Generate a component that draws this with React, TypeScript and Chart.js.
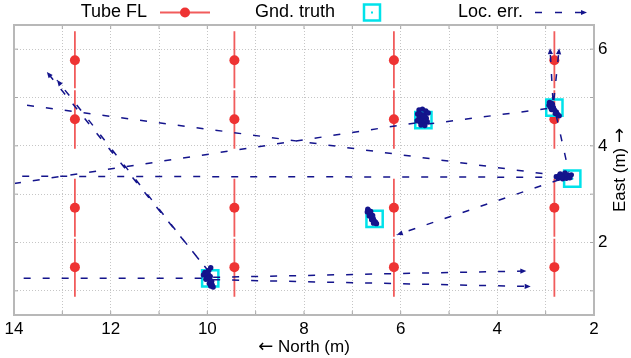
import React, { useEffect, useRef } from 'react';
import { Chart, registerables } from 'chart.js';

Chart.register(...registerables);

const W = 631;
const H = 358;
const FONT = '"Liberation Sans", Arial, Helvetica, sans-serif';
const ARROW_FONT = '"DejaVu Sans", sans-serif';
const RED = '#ee3333';
const RED_LINE = 'rgba(238,64,64,0.85)';
const CYAN = '#00e2ea';
const NAVY = '#14148c';
const FRAME = '#b8b8b8';

const seriesNames = ['Tube FL', 'Gnd. truth', 'Loc. err.'];
const xTitleParts = ['←', ' North (m)'];
const yTitleParts = ['East (m) ', '→'];

const xTickValues = [2, 3, 4, 5, 6, 7, 8, 9, 10, 11, 12, 13, 14];
const yTickValues = [1, 2, 3, 4, 5, 6];

// Tubes: x position of each tube, vertical segments with a marker at their centre
const tubeX = [12.74, 9.44, 6.14, 2.82];
const tubeSegTop = [6.37, 5.15, 3.32, 2.08];
const tubeSegBottom = [5.19, 3.94, 2.12, 0.88];
const tubeMarkY = [5.77, 4.55, 2.72, 1.49];

// Ground truth positions
const truthX = [9.94, 6.54, 5.53, 2.82, 2.45];
const truthY = [1.26, 2.49, 4.53, 4.79, 3.32];

// Large localization errors (dashed arrows)
const errFromX = [9.97, 9.93, 9.88, 9.88, 2.72, 2.85, 2.83, 13.73, 13.83, 14.0, 5.45, 2.78, 13.8];
const errFromY = [1.40, 1.34, 1.28, 1.23, 3.30, 4.95, 4.95, 4.84, 3.37, 3.22, 4.45, 4.62, 1.26];
const errToX = [13.32, 13.11, 3.40, 3.31, 6.08, 2.91, 2.72, 2.72, 2.75, 5.65, 2.90, 2.52, 10.0];
const errToY = [5.53, 5.36, 1.41, 1.09, 2.16, 6.02, 6.02, 3.38, 3.35, 4.48, 4.78, 3.45, 1.26];
const errHead = [1, 1, 1, 1, 1, 1, 1, 0, 0, 0, 0, 0, 0];

// Small localization errors clustered around each ground truth
const clusterX = [
  9.93, 9.97, 10.05, 10.08, 10.02, 9.97, 10.03, 9.95, 9.92, 9.96, 9.90, 9.88, 9.93, 10.0, 9.94, 9.99, 9.91,
  6.68, 6.66, 6.69, 6.64, 6.62, 6.65, 6.60, 6.57, 6.60, 6.55, 6.52, 6.50, 6.56, 6.62, 6.58,
  5.62, 5.55, 5.48, 5.65, 5.58, 5.50, 5.43, 5.62, 5.55, 5.47, 5.60, 5.52, 5.45, 5.58, 5.50, 5.66, 5.53,
  2.92, 2.88, 2.93, 2.86, 2.90, 2.84, 2.88, 2.82, 2.78, 2.80, 2.75, 2.72, 2.86, 2.84,
  2.78, 2.74, 2.72, 2.68, 2.65, 2.64, 2.60, 2.57, 2.55, 2.52, 2.50, 2.47, 2.70, 2.60, 2.66,
];
const clusterY = [
  1.48, 1.42, 1.38, 1.33, 1.30, 1.27, 1.24, 1.22, 1.18, 1.15, 1.12, 1.08, 1.10, 1.35, 1.30, 1.26, 1.20,
  2.69, 2.66, 2.63, 2.62, 2.58, 2.55, 2.53, 2.50, 2.47, 2.45, 2.42, 2.39, 2.40, 2.64, 2.56,
  4.74, 4.76, 4.72, 4.66, 4.65, 4.64, 4.68, 4.58, 4.56, 4.57, 4.50, 4.48, 4.50, 4.43, 4.42, 4.52, 4.61,
  4.90, 4.88, 4.84, 4.83, 4.80, 4.79, 4.75, 4.74, 4.70, 4.67, 4.65, 4.62, 4.86, 4.77,
  3.36, 3.33, 3.38, 3.35, 3.32, 3.39, 3.36, 3.33, 3.40, 3.37, 3.34, 3.40, 3.42, 3.44, 3.36,
];

function px(chart: any, vx: number, vy: number) {
  return [chart.scales.x.getPixelForValue(vx), chart.scales.y.getPixelForValue(vy)];
}

function arrowHead(ctx: CanvasRenderingContext2D, x1: number, y1: number, x2: number, y2: number) {
  const a = Math.atan2(y2 - y1, x2 - x1);
  const L = 6;
  const w = 2.6;
  const c = Math.cos(a);
  const s = Math.sin(a);
  ctx.beginPath();
  ctx.moveTo(x2, y2);
  ctx.lineTo(x2 - L * c + w * s, y2 - L * s - w * c);
  ctx.lineTo(x2 - L * c - w * s, y2 - L * s + w * c);
  ctx.closePath();
  ctx.fill();
}

// draws text parts (arrow glyph in a font with a long arrow) centred at 0,0
function drawTitle(ctx: CanvasRenderingContext2D, parts: string[]) {
  const fonts = parts.map((p) => (p === '←' || p === '→' ? `18px ${ARROW_FONT}` : `17px ${FONT}`));
  const widths = parts.map((p, i) => {
    ctx.font = fonts[i];
    return ctx.measureText(p).width;
  });
  const total = widths.reduce((s, w) => s + w, 0);
  let x = -total / 2;
  ctx.textAlign = 'left';
  ctx.textBaseline = 'middle';
  parts.forEach((p, i) => {
    ctx.font = fonts[i];
    ctx.fillText(p, x, 0);
    x += widths[i];
  });
}

const arrowPlugin = {
  id: 'arrowHeads',
  afterDatasetsDraw(chart: any) {
    const ctx = chart.ctx;
    ctx.save();
    ctx.fillStyle = NAVY;
    errToX.forEach((tx, i) => {
      if (!errHead[i]) return;
      const [x1, y1] = px(chart, errFromX[i], errFromY[i]);
      const [x2, y2] = px(chart, tx, errToY[i]);
      arrowHead(ctx, x1, y1, x2, y2);
    });
    ctx.restore();
  },
};

const framePlugin = {
  id: 'frame',
  afterDatasetsDraw(chart: any) {
    const { ctx, chartArea: a } = chart;
    ctx.save();
    ctx.strokeStyle = '#a8a8a8';
    ctx.lineWidth = 1;
    ctx.beginPath();
    xTickValues.forEach((v) => {
      const p = chart.scales.x.getPixelForValue(v);
      ctx.moveTo(p, a.top);
      ctx.lineTo(p, a.top + 4);
      ctx.moveTo(p, a.bottom);
      ctx.lineTo(p, a.bottom - 4);
    });
    yTickValues.forEach((v) => {
      const p = chart.scales.y.getPixelForValue(v);
      ctx.moveTo(a.left, p);
      ctx.lineTo(a.left + 4, p);
      ctx.moveTo(a.right, p);
      ctx.lineTo(a.right - 4, p);
    });
    ctx.stroke();
    ctx.strokeStyle = FRAME;
    ctx.lineWidth = 2;
    ctx.strokeRect(a.left, a.top, a.right - a.left, a.bottom - a.top);
    ctx.restore();
  },
};

const legendPlugin = {
  id: 'gpLegend',
  afterDraw(chart: any) {
    const ctx = chart.ctx;
    const a = chart.chartArea;
    // axis titles
    ctx.save();
    ctx.fillStyle = '#000';
    ctx.translate((a.left + a.right) / 2, 347);
    drawTitle(ctx, xTitleParts);
    ctx.restore();

    ctx.save();
    ctx.fillStyle = '#000';
    ctx.translate(620, (a.top + a.bottom) / 2);
    ctx.rotate(-Math.PI / 2);
    drawTitle(ctx, yTitleParts);
    ctx.restore();

    ctx.save();
    const y = 12.5;
    ctx.font = `18px ${FONT}`;
    ctx.fillStyle = '#000';
    ctx.textAlign = 'right';
    ctx.textBaseline = 'middle';
    const textRight = [147, 335, 523];
    const sampleC = [185, 372, 560];
    seriesNames.forEach((n, i) => ctx.fillText(n, textRight[i], y));
    // Tube FL sample
    ctx.strokeStyle = RED_LINE;
    ctx.lineWidth = 2;
    ctx.beginPath();
    ctx.moveTo(sampleC[0] - 25, y);
    ctx.lineTo(sampleC[0] + 25, y);
    ctx.stroke();
    ctx.fillStyle = RED;
    ctx.beginPath();
    ctx.arc(sampleC[0], y, 5, 0, Math.PI * 2);
    ctx.fill();
    // Gnd truth sample
    ctx.strokeStyle = CYAN;
    ctx.lineWidth = 2.5;
    ctx.strokeRect(sampleC[1] - 8, y - 8, 16, 16);
    ctx.fillStyle = CYAN;
    ctx.fillRect(sampleC[1] - 1, y - 1, 2, 2);
    // Loc err sample
    ctx.strokeStyle = NAVY;
    ctx.lineWidth = 1.5;
    ctx.setLineDash([7, 13]);
    ctx.beginPath();
    ctx.moveTo(sampleC[2] - 25, y);
    ctx.lineTo(sampleC[2] + 26, y);
    ctx.stroke();
    ctx.setLineDash([]);
    ctx.fillStyle = NAVY;
    arrowHead(ctx, sampleC[2] - 25, y, sampleC[2] + 27, y);
    ctx.restore();
  },
};

export default function App() {
  const ref = useRef<HTMLCanvasElement>(null);
  useEffect(() => {
    document.body.style.margin = '0';
    const canvas = ref.current;
    if (!canvas) return;

    const tubePts: any[] = [];
    tubeX.forEach((tx) => {
      tubeMarkY.forEach((my, j) => {
        tubePts.push({ x: tx, y: tubeSegTop[j] });
        tubePts.push({ x: tx, y: my, m: true });
        tubePts.push({ x: tx, y: tubeSegBottom[j] });
        tubePts.push({ x: tx, y: null });
      });
    });

    const errPts: any[] = [];
    errFromX.forEach((fx, i) => {
      errPts.push({ x: fx, y: errFromY[i] });
      errPts.push({ x: errToX[i], y: errToY[i] });
      errPts.push({ x: errToX[i], y: null });
    });

    const truthPts = truthX.map((x, i) => ({ x, y: truthY[i] }));
    const clusterPts = clusterX.map((x, i) => ({ x, y: clusterY[i] }));

    const chart = new Chart(canvas, {
      type: 'scatter',
      data: {
        datasets: [
          {
            label: seriesNames[0],
            data: tubePts,
            showLine: true,
            spanGaps: false,
            borderColor: RED_LINE,
            borderWidth: 1.8,
            backgroundColor: RED,
            pointBackgroundColor: RED,
            pointBorderWidth: 0,
            pointRadius: (c: any) => (c.raw && c.raw.m ? 5 : 0),
            order: 5,
          },
          {
            label: seriesNames[1],
            data: truthPts,
            pointStyle: 'rect',
            pointRadius: 11.5,
            pointBorderWidth: 2.5,
            pointBorderColor: CYAN,
            pointBackgroundColor: 'rgba(0,0,0,0)',
            order: 4,
          },
          {
            label: 'truth-dot',
            data: truthPts,
            pointRadius: 1.2,
            pointBorderWidth: 0,
            pointBackgroundColor: CYAN,
            order: 3,
          },
          {
            label: seriesNames[2],
            data: errPts,
            showLine: true,
            spanGaps: false,
            borderColor: NAVY,
            borderWidth: 1.5,
            borderDash: [7, 12],
            pointRadius: 0,
            order: 1,
          },
          {
            label: 'err-small',
            data: clusterPts,
            pointRadius: 2.7,
            pointBorderWidth: 0,
            pointBackgroundColor: NAVY,
            order: 0,
          },
        ],
      },
      options: {
        animation: false,
        responsive: false,
        devicePixelRatio: 1,
        events: [],
        layout: { padding: { left: 12, top: 25, right: 0, bottom: 0 } },
        plugins: { legend: { display: false }, tooltip: { enabled: false } },
        scales: {
          x: {
            type: 'linear',
            position: 'bottom',
            min: 2,
            max: 14,
            reverse: true,
            afterBuildTicks: (s: any) => {
              s.ticks = xTickValues.map((v) => ({ value: v }));
            },
            afterFit: (s: any) => {
              s.height = 43;
            },
            ticks: {
              autoSkip: false,
              maxRotation: 0,
              padding: 4,
              color: '#000',
              font: { family: FONT, size: 17 },
              callback: (v: any) => (Number(v) % 2 === 0 ? String(v) : ''),
            },
            grid: { color: '#c6c6c6', lineWidth: 1, drawTicks: false },
            border: { display: false, dash: [1, 2] },
            title: { display: false },
          },
          y: {
            type: 'linear',
            position: 'right',
            min: 0.5,
            max: 6.5,
            afterBuildTicks: (s: any) => {
              s.ticks = yTickValues.map((v) => ({ value: v }));
            },
            afterFit: (s: any) => {
              s.width = 37;
            },
            ticks: {
              autoSkip: false,
              padding: 4,
              color: '#000',
              font: { family: FONT, size: 17 },
              callback: (v: any) => (Number(v) % 2 === 0 ? String(v) : ''),
            },
            grid: { color: '#c6c6c6', lineWidth: 1, drawTicks: false },
            border: { display: false, dash: [1, 2] },
            title: { display: false },
          },
        },
      },
      plugins: [arrowPlugin, framePlugin, legendPlugin],
    } as any);
    return () => chart.destroy();
  }, []);

  return (
    <div style={{ width: W, height: H }}>
      <canvas ref={ref} width={W} height={H} style={{ display: 'block', width: W, height: H }} />
    </div>
  );
}
